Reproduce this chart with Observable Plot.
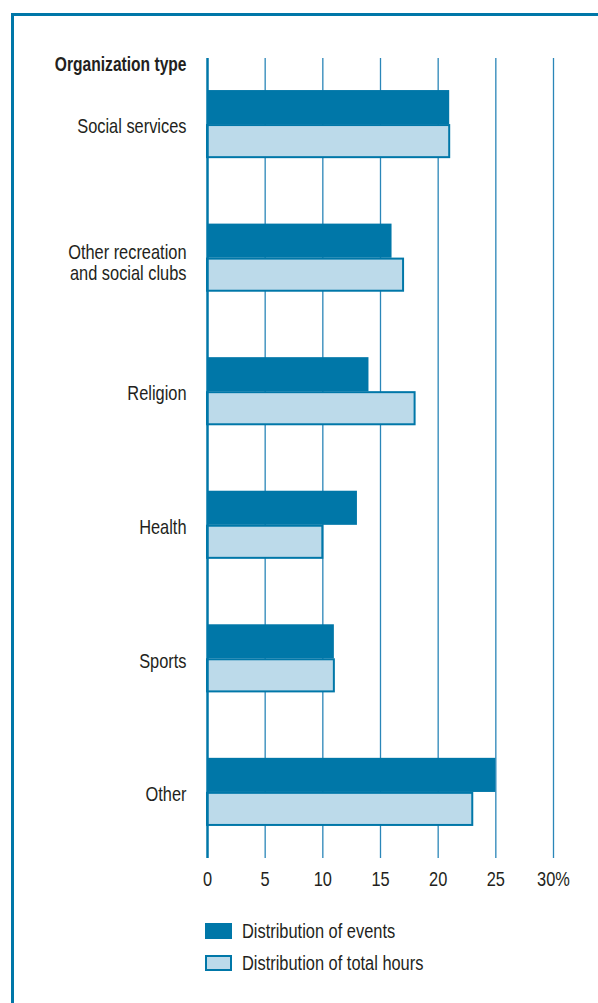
<!DOCTYPE html>
<html>
<head>
<meta charset="utf-8">
<script src="https://cdn.jsdelivr.net/npm/d3@7"></script>
<script src="https://cdn.jsdelivr.net/npm/@observablehq/plot@0.6"></script>
<style>
  html, body { margin: 0; padding: 0; background: #fff; }
  body { width: 598px; height: 1003px; position: relative; overflow: hidden;
         font-family: "Liberation Sans", Arial, sans-serif; color: #231f20; }
  #frame { position: absolute; left: 11px; top: 13px; right: -10px; bottom: -10px;
           border-left: 3px solid #0077a8; border-top: 3px solid #0077a8; }
  #chart { position: absolute; left: 0; top: 0; }
  #legend { position: absolute; left: 205px; top: 915px; font-size: 20px; }
  .item { display: flex; align-items: center; height: 32px; }
  .sw { width: 27px; height: 16px; margin-right: 10px; box-sizing: border-box; flex: none; }
  .lab { display: inline-block; transform: scaleX(0.82); transform-origin: left center; white-space: nowrap; }
</style>
</head>
<body>
<div id="frame"></div>
<div id="chart"></div>
<div id="legend"></div>
<script>
const categories = ["Social services", "Other recreation\nand social clubs", "Religion", "Health", "Sports", "Other"];
const events = [21, 16, 14, 13, 11, 25];
const hours = [21, 17, 18, 10, 11, 23];
const ticks = [0, 5, 10, 15, 20, 25, 30];
const seriesNames = ["Distribution of events", "Distribution of total hours"];
const axisTitle = "Organization type";

const dark = "#0077a8";
const light = "#bcdaea";
const gridColor = "#2a86b8";
const font = '"Liberation Sans", Arial, sans-serif';
const squeeze = 0.82;
const squeezeBold = 0.78;

const evData = categories.map((c, i) => ({cat: c, value: events[i]}));
const hrData = categories.map((c, i) => ({cat: c, value: hours[i]}));

const chart = Plot.plot({
  width: 598,
  height: 893,
  marginLeft: 207,
  marginRight: 45,
  marginTop: 58,
  marginBottom: 35,
  style: {fontFamily: font, fontSize: "20px", color: "#231f20", background: "transparent"},
  x: {domain: [0, 30], ticks: ticks},
  y: {domain: categories, paddingInner: 0.49, paddingOuter: 0.24, round: false},
  marks: [
    Plot.ruleX(ticks.filter(t => t > 0), {stroke: gridColor, strokeWidth: 1.3}),
    Plot.barX(evData, {y: "cat", x1: 0, x2: "value", fill: dark, insetBottom: 34, insetTop: 0}),
    Plot.barX(hrData, {y: "cat", x1: 0, x2: "value", fill: light, stroke: dark, strokeWidth: 2, insetTop: 35, insetBottom: 1}),
    Plot.ruleX([0], {stroke: dark, strokeWidth: 2.5}),
    Plot.axisX({ticks: ticks, tickSize: 0, tickPadding: 13, tickFormat: d => d === 30 ? "30%" : String(d), label: null, fill: "#231f20"}),
    Plot.axisY({tickSize: 0, tickPadding: 21, dy: 2, label: null, lineHeight: 1.05, fill: "#231f20"}),
    Plot.text([axisTitle], {frameAnchor: "top-left", dx: -21, dy: 6, textAnchor: "end", lineAnchor: "middle", fontWeight: "bold", fill: "#231f20"})
  ]
});
document.getElementById("chart").appendChild(chart);

// Condense the text horizontally around each label's anchor (Helvetica Condensed look)
d3.select(chart).selectAll("text").each(function() {
  const t = this.getAttribute("transform") || "";
  const bold = this.textContent === axisTitle;
  const multi = this.querySelectorAll("tspan").length > 1;
  const k = bold ? squeezeBold : squeeze;
  this.setAttribute("transform", (t + (multi ? " translate(0,3)" : "") + " scale(" + k + ",1)").trim());
});

const legend = document.getElementById("legend");
seriesNames.forEach((name, i) => {
  const item = document.createElement("div");
  item.className = "item";
  const sw = document.createElement("div");
  sw.className = "sw";
  if (i === 0) { sw.style.background = dark; }
  else { sw.style.background = light; sw.style.border = "2px solid " + dark; }
  const label = document.createElement("span");
  label.className = "lab";
  label.textContent = name;
  item.appendChild(sw);
  item.appendChild(label);
  legend.appendChild(item);
});
</script>
</body>
</html>
